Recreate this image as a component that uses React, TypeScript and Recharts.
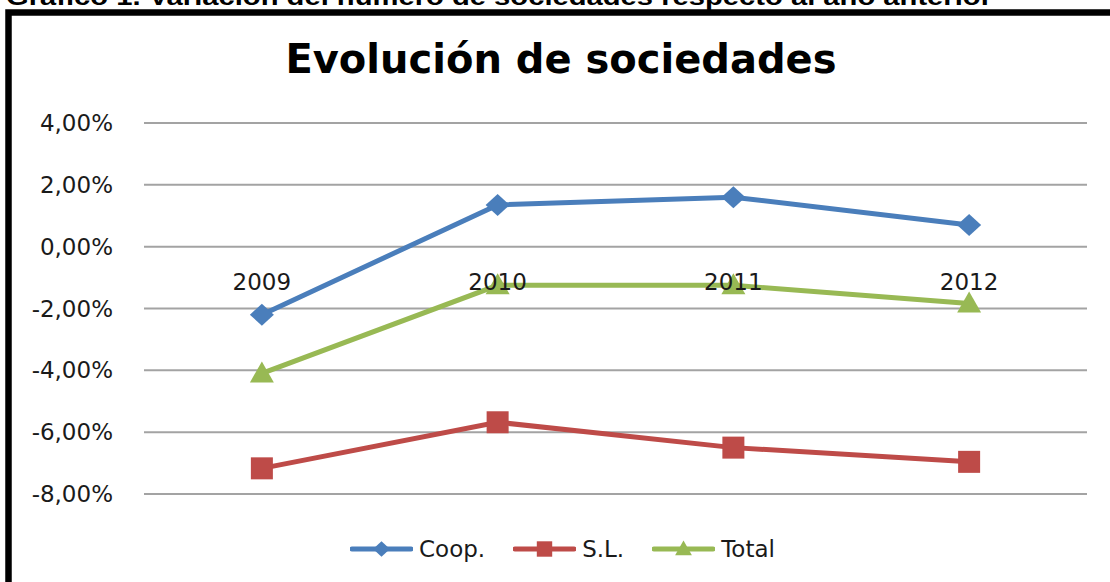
import { LineChart, Line, XAxis, YAxis, CartesianGrid, Legend, ReferenceDot } from "recharts";

const years = ["2009", "2010", "2011", "2012"];
const coop = [-2.2, 1.35, 1.6, 0.7];
const sl = [-7.17, -5.68, -6.5, -6.96];
const total = [-4.1, -1.25, -1.25, -1.84];
const yTicks = [-8, -6, -4, -2, 0, 2, 4];

const BLUE = "#4A7EBB";
const RED = "#BE4B48";
const GREEN = "#98B954";
const FONT = "'DejaVu Sans', sans-serif";

const data = years.map((year, i) => ({ year, coop: coop[i], sl: sl[i], total: total[i] }));

const fmt = (v: number) => v.toFixed(2).replace(".", ",") + "%";

const Marker = ({ kind, cx, cy, color, s = 1 }: { kind: string; cx: number; cy: number; color: string; s?: number }) => {
  if (kind === "diamond") {
    const w = 12 * s, h = 11 * s;
    return <polygon points={`${cx},${cy - h} ${cx + w},${cy} ${cx},${cy + h} ${cx - w},${cy}`} fill={color} />;
  }
  if (kind === "square") {
    const r = 11 * s;
    return <rect x={cx - r} y={cy - r} width={2 * r} height={2 * r} fill={color} />;
  }
  const w = 12 * s;
  return <polygon points={`${cx},${cy - 12 * s} ${cx + w},${cy + 9 * s} ${cx - w},${cy + 9 * s}`} fill={color} />;
};

const dotOf = (kind: string, color: string) => (p: any) =>
  p.cx == null || p.cy == null ? <g key={p.key} /> : <Marker key={p.key} kind={kind} cx={p.cx} cy={p.cy} color={color} />;

const series = [
  { key: "coop", name: "Coop.", color: BLUE, kind: "diamond" },
  { key: "sl", name: "S.L.", color: RED, kind: "square" },
  { key: "total", name: "Total", color: GREEN, kind: "triangle" },
];

const renderLegend = () => (
  <div style={{ display: "flex", alignItems: "center", height: 30, gap: 28, fontFamily: FONT, fontSize: 23, color: "#1a1a1a" }}>
    {series.map((s) => (
      <div key={s.key} style={{ display: "flex", alignItems: "center" }}>
        <svg width={63} height={24} style={{ marginRight: 6 }}>
          <line x1={2} y1={12} x2={61} y2={12} stroke={s.color} strokeWidth={5} strokeLinecap="round" />
          <Marker kind={s.kind} cx={31.5} cy={12} color={s.color} s={0.7} />
        </svg>
        <span>{s.name}</span>
      </div>
    ))}
  </div>
);

export default function App() {
  return (
    <div style={{ position: "absolute", left: 0, top: 0, width: 1110, height: 582, overflow: "hidden", background: "#fff" }}>
      <svg width={1110} height={582} style={{ position: "absolute", left: 0, top: 0 }}>
        <text x={6} y={5} fontFamily="'Liberation Sans', Arial, sans-serif" fontWeight="bold" fontSize={24} textLength={986} lengthAdjust="spacingAndGlyphs" fill="#000">
          Gráfico 1. Variación del número de sociedades respecto al año anterior
        </text>
        <rect x={8.5} y={12.5} width={1115} height={600} fill="none" stroke="#000" strokeWidth={6.5} />
        <text x={561} y={73} textAnchor="middle" fontFamily={FONT} fontWeight="bold" fontSize={40} fill="#000">
          Evolución de sociedades
        </text>
      </svg>
      <div style={{ position: "absolute", left: 0, top: 0 }}>
        <LineChart width={1110} height={582} data={data} margin={{ top: 123, right: 23, left: 0, bottom: 58 }}>
          <CartesianGrid vertical={false} stroke="#A3A3A3" strokeWidth={2} />
          <XAxis dataKey="year" scale="band" hide />
          <YAxis
            domain={[-8, 4]}
            ticks={yTicks}
            tickFormatter={fmt}
            width={144}
            axisLine={false}
            tickLine={false}
            tickSize={0}
            tickMargin={31}
            tick={{ fontFamily: FONT, fontSize: 23, fill: "#1a1a1a" }}
          />
          {series.map((s) => (
            <Line
              key={s.key}
              dataKey={s.key}
              name={s.name}
              type="linear"
              stroke={s.color}
              strokeWidth={5}
              dot={dotOf(s.kind, s.color)}
              activeDot={false}
              isAnimationActive={false}
            />
          ))}
          {years.map((y) => (
            <ReferenceDot
              key={y}
              x={y}
              y={0}
              r={0}
              fill="none"
              stroke="none"
              label={{ value: y, position: "bottom", offset: 27, fontFamily: FONT, fontSize: 23, fill: "#1a1a1a" }}
            />
          ))}
          <Legend content={renderLegend} wrapperStyle={{ left: 350, bottom: 18, width: "auto" }} />
        </LineChart>
      </div>
    </div>
  );
}
